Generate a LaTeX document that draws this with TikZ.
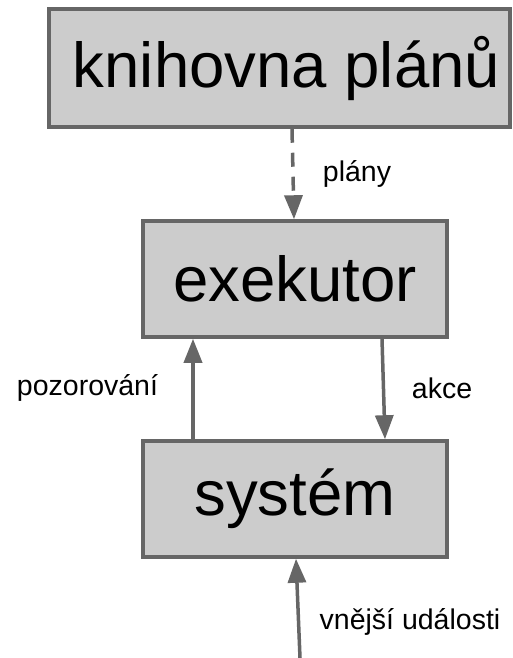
\documentclass[tikz,border=0pt]{standalone}
\usepackage{fontspec}
\setmainfont{Liberation Sans}
\usetikzlibrary{arrows.meta}
\definecolor{boxfill}{HTML}{CCCCCC}
\definecolor{edge}{HTML}{666666}
\begin{document}
\begin{tikzpicture}[x=1pt,y=-1pt,
  box/.style={draw=edge, fill=boxfill, line width=3.5pt, inner sep=0pt, font=\fontsize{63.5}{63.5}\selectfont},
  arr/.style={draw=edge, line width=3.5pt, -{Triangle[length=24pt,width=18pt]}},
  lbl/.style={font=\fontsize{28.5}{28.5}\selectfont, inner sep=0pt}]
\useasboundingbox (0,0) rectangle (512,658);
\node[box, minimum width=461pt, minimum height=118pt] (lib) at (279.5,68) {\hspace*{14pt}knihovna plánů};
\node[box, minimum width=304pt, minimum height=116pt] (exe) at (295,279) {exekutor};
\node[box, minimum width=304pt, minimum height=116pt] (sys) at (295,499) {systém};
% x positions of connectors
\coordinate (dA) at (292,0);
\coordinate (dB) at (294,0);
\coordinate (uA) at (193,0);
\coordinate (aA) at (382,0);
\coordinate (aB) at (385,0);
\coordinate (eA) at (300,658);
\coordinate (eB) at (296,0);
\draw[arr, dash pattern=on 14pt off 10pt] (lib.south -| dA) -- (exe.north -| dB);
\draw[arr] (sys.north -| uA) -- (exe.south -| uA);
\draw[arr] (exe.south -| aA) -- (sys.north -| aB);
\draw[arr] (eA) -- (sys.south -| eB);
\node[lbl] (lplany) at (357,174) {plány};
\node[lbl] (lpoz) at (87.5,388) {pozorování};
\node[lbl] (lakce) at (442,388) {akce};
\node[lbl] (lext) at (410,622) {vnější události};
\end{tikzpicture}
\end{document}
